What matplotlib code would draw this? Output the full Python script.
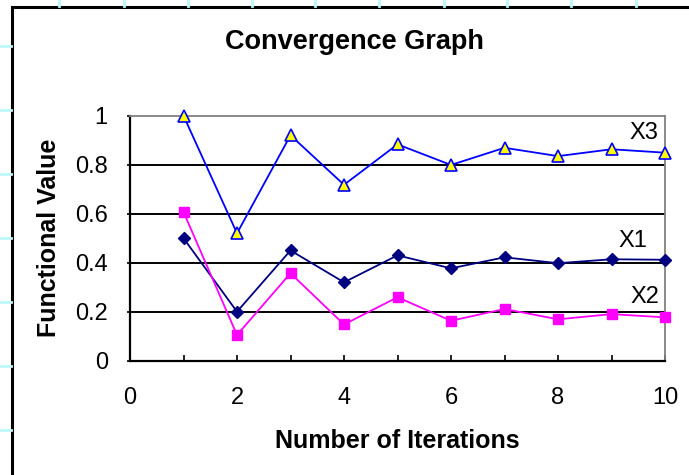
import matplotlib
matplotlib.use("Agg")
import matplotlib.pyplot as plt
from matplotlib.lines import Line2D
from matplotlib.patches import Rectangle

iterations = [1, 2, 3, 4, 5, 6, 7, 8, 9, 10]
x1 = [0.50, 0.20, 0.45, 0.32, 0.43, 0.377, 0.422, 0.398, 0.414, 0.412]
x2 = [0.607, 0.105, 0.357, 0.148, 0.259, 0.163, 0.211, 0.169, 0.190, 0.177]
x3 = [1.00, 0.52, 0.92, 0.718, 0.883, 0.799, 0.869, 0.835, 0.863, 0.849]
xticks = [0, 2, 4, 6, 8, 10]
yticks = [0, 0.2, 0.4, 0.6, 0.8, 1.0]
ytick_labels = ["0", "0.2", "0.4", "0.6", "0.8", "1"]

plt.rcParams['font.family'] = ['Liberation Sans', 'DejaVu Sans']

W, H = 689, 475
fig = plt.figure(figsize=(W / 100, H / 100), dpi=100)
fig.patch.set_facecolor('white')

# faint cyan worksheet grid outside the chart frame
cyan = '#bff8f8'
for yy in [46, 110, 174, 238, 302, 366, 430]:
    fig.add_artist(Line2D([0, 11 / W], [1 - yy / H] * 2, color=cyan, lw=2, transform=fig.transFigure))
for xx in [59, 124, 188, 252, 315, 379, 444, 507, 571, 636]:
    fig.add_artist(Line2D([xx / W] * 2, [1, 1 - 6 / H], color=cyan, lw=2, transform=fig.transFigure))

# chart frame
fig.add_artist(Rectangle((12 / W, -0.1), 1.2, 1 - 7 / H + 0.1, transform=fig.transFigure,
                         facecolor='white', edgecolor='black', lw=2.2, zorder=1))

ax = fig.add_axes([130 / W, 1 - 360.7 / H, (665 - 130) / W, (360.7 - 115.7) / H])
ax.set_zorder(2)
ax.patch.set_alpha(0)
ax.set_xlim(0, 10)
ax.set_ylim(0, 1)

for yv in yticks[1:-1]:
    ax.axhline(yv, color='black', lw=1.4, zorder=1)

ax.plot(iterations, x3, color='#0000ff', lw=1.3, marker='^', markersize=8.5,
        markerfacecolor='#ffff00', markeredgecolor='#0000ff', markeredgewidth=1.2, zorder=3, clip_on=False)
ax.plot(iterations, x1, color='#000080', lw=1.3, marker='D', markersize=6.5,
        markerfacecolor='#000080', markeredgecolor='#000080', zorder=3, clip_on=False)
ax.plot(iterations, x2, color='#ff00ff', lw=1.3, marker='s', markersize=7,
        markerfacecolor='#ff00ff', markeredgecolor='#ff00ff', zorder=3, clip_on=False)

ax.text(9.6, 0.93, 'X3', fontsize=17, ha='center', va='center')
ax.text(9.4, 0.49, 'X1', fontsize=17, ha='center', va='center')
ax.text(9.63, 0.26, 'X2', fontsize=17, ha='center', va='center')

for s in ['top', 'right']:
    ax.spines[s].set_color('#808080')
    ax.spines[s].set_linewidth(1.3)
for s in ['left', 'bottom']:
    ax.spines[s].set_color('black')
    ax.spines[s].set_linewidth(1.6)

ax.set_xticks(xticks)
ax.set_xticks(iterations, minor=True)
ax.set_yticks(yticks)
ax.set_yticklabels(ytick_labels)
ax.tick_params(axis='x', which='both', direction='in', length=4, width=1.2, pad=19, labelsize=17)
ax.tick_params(axis='y', direction='out', length=2, width=1.2, pad=14, labelsize=17)

ax.set_xlabel('Number of Iterations', fontsize=18, fontweight='bold', labelpad=14)
ax.set_ylabel('Functional Value', fontsize=18, fontweight='bold', labelpad=10)
fig.text(354 / W, 1 - 42 / H, 'Convergence Graph', fontsize=19.5, fontweight='bold',
         ha='center', va='center')

fig.savefig('out.png', dpi=100)
